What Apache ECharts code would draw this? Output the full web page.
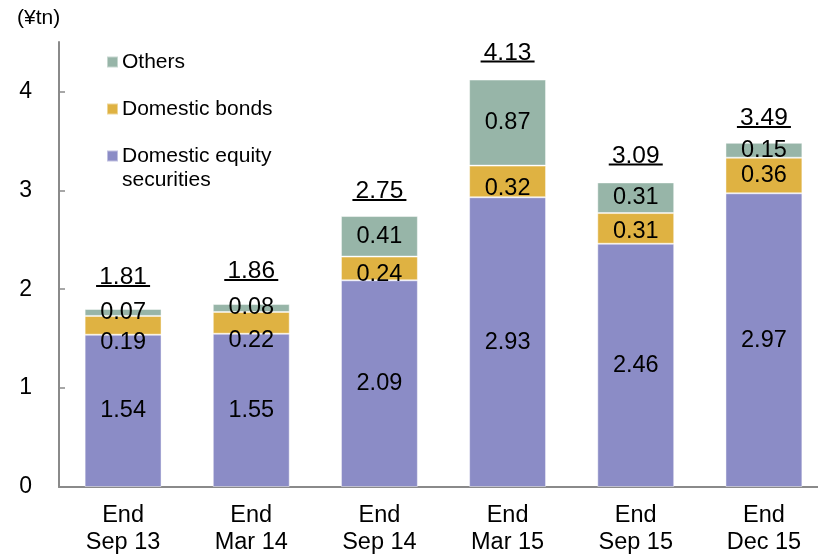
<!DOCTYPE html>
<html>
<head>
<meta charset="utf-8">
<title>Breakdown by asset type</title>
<script src="https://cdn.jsdelivr.net/npm/echarts@6/dist/echarts.min.js"></script>
<style>
  html, body { margin: 0; padding: 0; background: #fff; }
  #chart { width: 818px; height: 556px; }
</style>
</head>
<body>
<div id="chart"></div>
<script>
// Period labels along the x axis
const categories = ['End\nSep 13', 'End\nMar 14', 'End\nSep 14', 'End\nMar 15', 'End\nSep 15', 'End\nDec 15'];

// Stacked components (¥tn)
const equity = [1.54, 1.55, 2.09, 2.93, 2.46, 2.97];
const bonds  = [0.19, 0.22, 0.24, 0.32, 0.31, 0.36];
const others = [0.07, 0.08, 0.41, 0.87, 0.31, 0.15];

// Stated totals shown above each column
const totals = [1.81, 1.86, 2.75, 4.13, 3.09, 3.49];

// Y axis tick values
const yTicks = [0, 1, 2, 3, 4];

const FONT = '"Liberation Sans", Arial, Helvetica, sans-serif';
const COLORS = { equity: '#8b8cc6', bonds: '#dfb242', others: '#97b5a8' };

// Small vertical nudges for in-bar labels of the bonds segment (pixels)
const bondLabelShift = [17, 18, 6, 7, 3, 0];
// Extra lift for the total labels (pixels)
const totalLift = [5, 6, -2, 0, 0, -2];

function segmentData(values, shifts) {
  return values.map((v, i) => {
    const item = { value: v };
    if (shifts && shifts[i]) item.label = { offset: [0, shifts[i]] };
    return item;
  });
}

const barLabel = {
  show: true,
  position: 'inside',
  color: '#000',
  fontSize: 23.5,
  fontFamily: FONT,
  formatter: p => p.value.toFixed(2)
};

const barBase = {
  type: 'bar',
  stack: 'total',
  barWidth: '60%',
  label: barLabel,
  emphasis: { disabled: true }
};

const chart = echarts.init(document.getElementById('chart'), null, { renderer: 'canvas' });

chart.setOption({
  animation: false,
  textStyle: { fontFamily: FONT },
  title: {
    text: '(¥tn)',
    left: 17,
    top: 8,
    padding: 0,
    textStyle: { fontSize: 21, fontWeight: 'normal', color: '#000', fontFamily: FONT }
  },
  legend: [
    {
      data: ['Others', 'Domestic bonds'],
      orient: 'vertical',
      left: 106,
      top: 50,
      padding: 0,
      itemGap: 23,
      itemWidth: 11,
      itemHeight: 11,
      icon: 'rect',
      selectedMode: false,
      textStyle: { fontSize: 21, color: '#000', fontFamily: FONT, lineHeight: 24, padding: [0, 0, 0, -1] }
    },
    {
      // Leading blank line keeps the first text line level with the marker
      data: ['Domestic equity securities'],
      orient: 'vertical',
      left: 106,
      top: 120,
      padding: 0,
      itemWidth: 11,
      itemHeight: 11,
      icon: 'rect',
      selectedMode: false,
      formatter: () => ' \nDomestic equity\nsecurities',
      textStyle: { fontSize: 21, color: '#000', fontFamily: FONT, lineHeight: 24, padding: [0, 0, 0, -1] }
    }
  ],
  // The plot runs slightly past the right edge of the canvas
  grid: { left: 59, width: 769, top: 42, bottom: 69, outerBoundsMode: 'none', containLabel: false },
  xAxis: {
    type: 'category',
    data: categories,
    axisLine: { lineStyle: { color: '#8a8a8a', width: 2 } },
    axisTick: { show: false },
    axisLabel: { color: '#000', fontSize: 23.5, lineHeight: 27, margin: 15, fontFamily: FONT }
  },
  yAxis: {
    type: 'value',
    min: 0,
    max: 4.5,
    interval: 1,
    splitLine: { show: false },
    axisLine: { show: true, lineStyle: { color: '#8a8a8a', width: 2 } },
    axisTick: { show: true, inside: true, length: 6, customValues: yTicks, lineStyle: { color: '#8a8a8a', width: 1.5 } },
    axisLabel: { color: '#000', fontSize: 23, margin: 27, customValues: yTicks, fontFamily: FONT }
  },
  series: [
    Object.assign({}, barBase, {
      name: 'Domestic equity securities',
      data: segmentData(equity),
      itemStyle: { color: COLORS.equity, borderColor: 'rgba(255,255,255,0.45)', borderWidth: 1 }
    }),
    Object.assign({}, barBase, {
      name: 'Domestic bonds',
      data: segmentData(bonds, bondLabelShift),
      itemStyle: { color: COLORS.bonds, borderColor: 'rgba(255,255,255,0.45)', borderWidth: 1 }
    }),
    Object.assign({}, barBase, {
      name: 'Others',
      data: segmentData(others),
      itemStyle: { color: COLORS.others, borderColor: 'rgba(255,255,255,0.45)', borderWidth: 1 }
    }),
    {
      // Underlined totals above each column
      type: 'custom',
      name: 'Total',
      silent: true,
      z: 10,
      data: totals.map((t, i) => [i, t]),
      renderItem: (params, api) => {
        const i = params.dataIndex;
        const p = api.coord([api.value(0), api.value(1)]);
        const underlineY = p[1] - 17 - totalLift[i];
        return {
          type: 'group',
          children: [
            {
              type: 'text',
              x: p[0],
              y: underlineY + 4,
              style: {
                text: totals[i].toFixed(2),
                fontSize: 24.5,
                fontFamily: FONT,
                fill: '#000',
                align: 'center',
                verticalAlign: 'bottom'
              }
            },
            {
              type: 'line',
              shape: { x1: p[0] - 27, y1: underlineY, x2: p[0] + 27, y2: underlineY },
              style: { stroke: '#000', lineWidth: 2 }
            }
          ]
        };
      }
    }
  ]
});
</script>
</body>
</html>
